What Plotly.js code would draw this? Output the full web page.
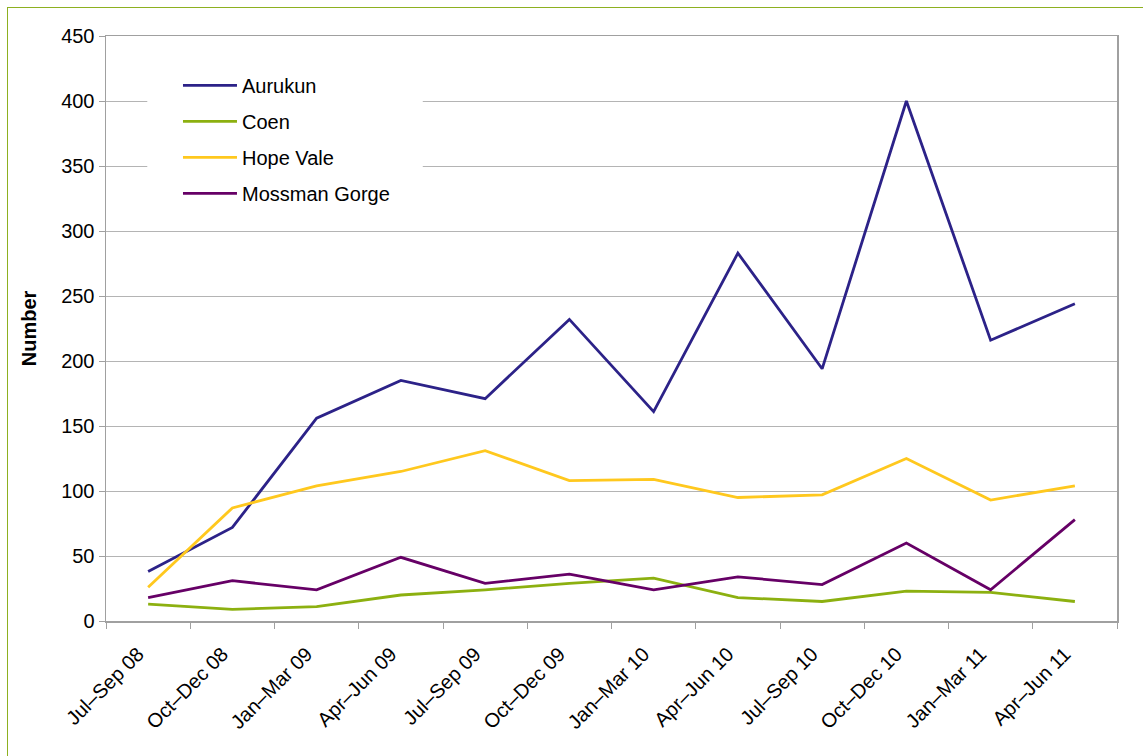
<!DOCTYPE html>
<html>
<head>
<meta charset="utf-8">
<script src="https://cdn.plot.ly/plotly-3.0.1.min.js"></script>
<style>
html,body{margin:0;padding:0;background:#fff;}
#frame{position:absolute;left:7px;top:7px;width:1200px;height:800px;border-left:1px solid #8db020;border-top:1px solid #8db020;pointer-events:none;z-index:5;}
#chart{position:absolute;left:0;top:0;width:1143px;height:756px;}
</style>
</head>
<body>
<div id="chart"></div>
<div id="frame"></div>
<script>
const quarters = ["Jul–Sep 08","Oct–Dec 08","Jan–Mar 09","Apr–Jun 09","Jul–Sep 09","Oct–Dec 09","Jan–Mar 10","Apr–Jun 10","Jul–Sep 10","Oct–Dec 10","Jan–Mar 11","Apr–Jun 11"];
const aurukun = [38, 72, 156, 185, 171, 232, 161, 283, 194, 400, 216, 244];
const coen = [13, 9, 11, 20, 24, 29, 33, 18, 15, 23, 22, 15];
const hopeVale = [26, 87, 104, 115, 131, 108, 109, 95, 97, 125, 93, 104];
const mossmanGorge = [18, 31, 24, 49, 29, 36, 24, 34, 28, 60, 24, 78];
const seriesNames = ["Aurukun","Coen","Hope Vale","Mossman Gorge"];
const seriesColors = ["#2c2288","#8cb010","#ffc81e","#660066"];
const seriesData = [aurukun, coen, hopeVale, mossmanGorge];

const traces = seriesData.map((d, i) => ({
  type: 'scatter', mode: 'lines', x: quarters, y: d, name: seriesNames[i],
  legendgroup: 'g' + i,
  line: {color: seriesColors[i], width: 2.8}
}));

const layout = {
  width: 1143, height: 756,
  margin: {l: 106, r: 26, t: 36, b: 135},
  paper_bgcolor: '#fff', plot_bgcolor: '#fff',
  font: {family: 'Liberation Sans, Arial, sans-serif', size: 20, color: '#000'},
  showlegend: true,
  legend: {
    x: 0.0712, y: 0.949, xanchor: 'left', yanchor: 'top',
    bgcolor: 'rgba(255,255,255,0)', borderwidth: 0,
    font: {size: 20, color: '#000'},
    itemwidth: 54, tracegroupgap: 7, traceorder: 'grouped'
  },
  shapes: [{
    type: 'rect', xref: 'x', yref: 'y', layer: 'between',
    x0: -0.01, x1: 3.26, y0: 315, y1: 440,
    fillcolor: '#fff', line: {width: 0}
  }],
  xaxis: {
    type: 'category', range: [-0.5, 11.5],
    tickangle: -45, tickson: 'boundaries', ticks: 'outside', ticklen: 6, tickcolor: '#a0a0a0',
    ticklabelstandoff: 12, ticklabelshift: -10,
    showline: true, linecolor: '#a0a0a0', linewidth: 1.5, mirror: true,
    showgrid: false, zeroline: false,
    tickfont: {size: 20}
  },
  yaxis: {
    range: [0, 450], dtick: 50, tick0: 0,
    ticks: 'outside', ticklen: 6, tickcolor: '#a0a0a0',
    showline: true, linecolor: '#a0a0a0', linewidth: 1.5, mirror: true,
    showgrid: true, gridcolor: '#b4b4b4', gridwidth: 1, zeroline: false,
    tickfont: {size: 20},
    title: {text: '<b>Number</b>', font: {size: 20}, standoff: 19}
  }
};

Plotly.newPlot('chart', traces, layout, {displayModeBar: false, staticPlot: true});
</script>
</body>
</html>
